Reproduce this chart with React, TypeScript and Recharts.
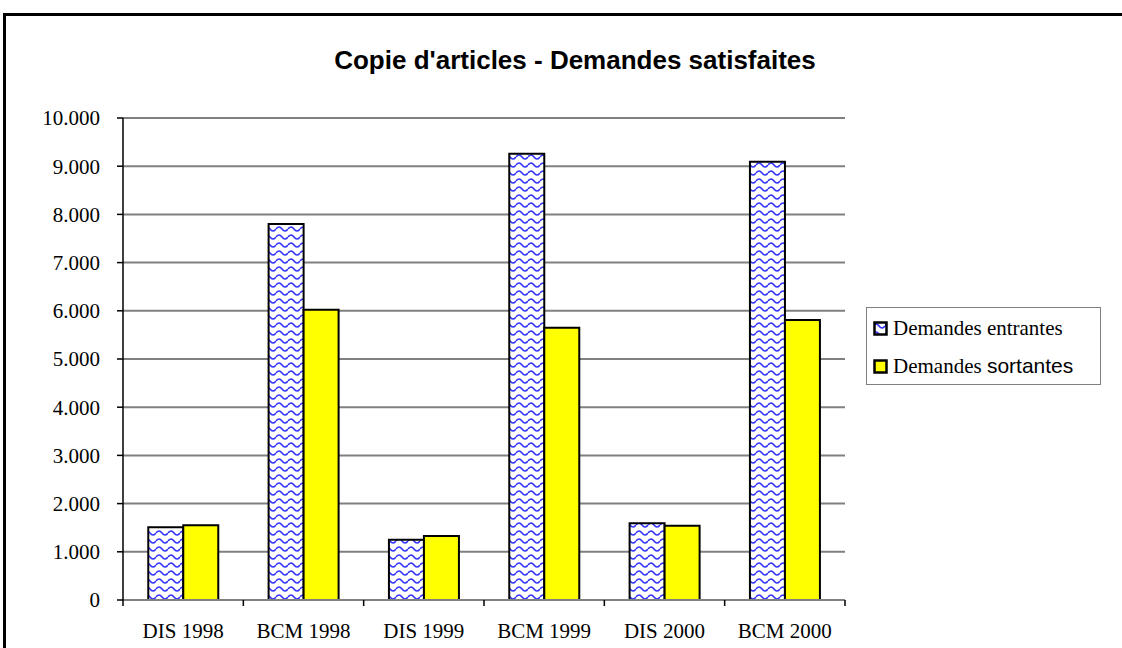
import { Bar, BarChart, CartesianGrid, Legend, XAxis, YAxis } from 'recharts';

const categories = ['DIS 1998', 'BCM 1998', 'DIS 1999', 'BCM 1999', 'DIS 2000', 'BCM 2000'];
const entrantes = [1510, 7800, 1250, 9260, 1590, 9090];
const sortantes = [1550, 6020, 1330, 5650, 1540, 5810];
const yTicks = [0, 1000, 2000, 3000, 4000, 5000, 6000, 7000, 8000, 9000, 10000];

const data = categories.map((label, i) => ({
  label,
  entrantes: entrantes[i],
  sortantes: sortantes[i],
}));

const fmtY = (v: number) =>
  v >= 1000 ? `${Math.floor(v / 1000)}.${String(v % 1000).padStart(3, '0')}` : String(v);

const serif = '"Liberation Serif", "Times New Roman", serif';
const sans = '"Liberation Sans", Arial, sans-serif';

function XTick(props: any) {
  const { x, y, payload, index } = props;
  const off = payload?.offset ?? 0;
  return (
    <g>
      <line x1={x - off} x2={x - off} y1={y} y2={y + 6} stroke="#000" strokeWidth={1.5} />
      {index === categories.length - 1 && (
        <line x1={x + off} x2={x + off} y1={y} y2={y + 6} stroke="#000" strokeWidth={1.5} />
      )}
      <text x={x} y={y + 38} textAnchor="middle" fontFamily={serif} fontSize={21} fill="#000">
        {payload.value}
      </text>
    </g>
  );
}

function LegendBox(props: any) {
  const items = props.payload || [];
  return (
    <div
      style={{
        width: 233,
        height: 76,
        border: '1.5px solid #808080',
        background: '#fff',
        boxSizing: 'content-box',
      }}
    >
      {items.map((entry: any, i: number) => {
        const words = String(entry.value).split(' ');
        return (
          <div
            key={i}
            style={{
              display: 'flex',
              alignItems: 'center',
              height: 38,
              paddingLeft: 6,
              marginTop: i === 0 ? 1 : 0,
              lineHeight: '24px',
              whiteSpace: 'nowrap',
            }}
          >
            <svg width={15} height={15} style={{ marginRight: 5, flexShrink: 0 }}>
              <rect x={1.5} y={1.5} width={12} height={12} fill={entry.color} stroke="#000" strokeWidth={2.5} />
            </svg>
            <span style={{ fontFamily: serif, fontSize: 21 }}>{words[0]}&nbsp;</span>
            <span style={{ fontFamily: i === 1 ? sans : serif, fontSize: 21 }}>
              {words.slice(1).join(' ')}
            </span>
          </div>
        );
      })}
    </div>
  );
}

export default function App() {
  return (
    <div style={{ position: 'absolute', left: 0, top: 0, width: 1122, height: 648, overflow: 'hidden', background: '#fff' }}>
      <svg width={0} height={0} style={{ position: 'absolute' }}>
        <defs>
          <pattern id="wave" patternUnits="userSpaceOnUse" width={12} height={8}>
            <rect width={12} height={8} fill="#fff" />
            <path d="M0 5 Q3 1 6 5 T12 5" fill="none" stroke="#3333ff" strokeWidth={1.6} />
          </pattern>
        </defs>
      </svg>
      <div
        style={{
          position: 'absolute',
          left: 3,
          top: 13,
          width: 1140,
          height: 660,
          border: '3px solid #000',
        }}
      />
      <div
        style={{
          position: 'absolute',
          left: 0,
          top: 44,
          width: 1150,
          textAlign: 'center',
          fontFamily: sans,
          fontWeight: 'bold',
          fontSize: 26,
          lineHeight: '32px',
        }}
      >
        Copie d'articles - Demandes satisfaites
      </div>
      <div style={{ position: 'absolute', left: 0, top: 0 }}>
        <BarChart
          width={1122}
          height={648}
          data={data}
          margin={{ top: 118, right: 41, left: 63, bottom: 18 }}
          barCategoryGap="21%"
          barGap={0}
        >
          <CartesianGrid horizontal vertical={false} stroke="#808080" strokeWidth={2} />
          <XAxis
            dataKey="label"
            tick={<XTick />}
            tickLine={false}
            tickSize={0}
            tickMargin={0}
            axisLine={{ stroke: '#808080', strokeWidth: 2 }}
            height={30}
            interval={0}
          />
          <YAxis
            domain={[0, 10000]}
            ticks={yTicks}
            tickFormatter={fmtY}
            tick={{ fontFamily: serif, fontSize: 21, fill: '#000' }}
            tickSize={6}
            tickMargin={17}
            tickLine={{ stroke: '#000', strokeWidth: 1.5 }}
            axisLine={{ stroke: '#000', strokeWidth: 1.5 }}
            width={60}
            interval={0}
          />
          <YAxis
            yAxisId="frame"
            orientation="right"
            tick={false}
            tickLine={false}
            axisLine={{ stroke: '#808080', strokeWidth: 2 }}
            width={0}
          />
          <Legend
            layout="vertical"
            align="right"
            verticalAlign="middle"
            content={<LegendBox />}
            wrapperStyle={{ left: 866, top: 307, width: 236 }}
          />
          <Bar
            dataKey="entrantes"
            name="Demandes entrantes"
            fill="url(#wave)"
            stroke="#000"
            strokeWidth={2}
            isAnimationActive={false}
          />
          <Bar
            dataKey="sortantes"
            name="Demandes sortantes"
            fill="#ffff00"
            stroke="#000"
            strokeWidth={2}
            isAnimationActive={false}
          />
        </BarChart>
      </div>
    </div>
  );
}
